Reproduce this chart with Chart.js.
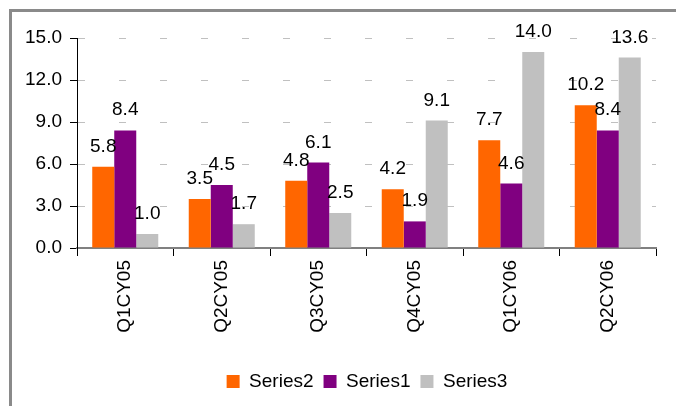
<!DOCTYPE html>
<html>
<head>
<meta charset="utf-8">
<script src="https://cdn.jsdelivr.net/npm/chart.js@4/dist/chart.umd.min.js"></script>
<style>
html,body{margin:0;padding:0;background:#fff;}
#wrap{position:relative;width:676px;height:406px;}
canvas{display:block;}
</style>
</head>
<body>
<div id="wrap"><canvas id="c" width="676" height="406"></canvas></div>
<script>
const categories = ["Q1CY05","Q2CY05","Q3CY05","Q4CY05","Q1CY06","Q2CY06"];
const series2 = [5.8, 3.5, 4.8, 4.2, 7.7, 10.2];
const series1 = [8.4, 4.5, 6.1, 1.9, 4.6, 8.4];
const series3 = [1.0, 1.7, 2.5, 9.1, 14.0, 13.6];
const seriesNames = ["Series2","Series1","Series3"];
const seriesColors = ["#FF6600","#800080","#C0C0C0"];
const yTicks = [0, 3, 6, 9, 12, 15];

const FONT = "'Liberation Sans', Arial, sans-serif";

const frame = {
  id: 'frame',
  beforeDraw(chart) {
    const ctx = chart.ctx;
    ctx.save();
    ctx.fillStyle = '#fff';
    ctx.fillRect(0, 0, chart.width, chart.height);
    ctx.fillStyle = '#8a8a8a';
    ctx.fillRect(9, 9, chart.width - 9, 3);
    ctx.fillRect(9, 9, 3, chart.height - 9);
    ctx.restore();
  }
};

const legendShift = {
  id: 'legendShift',
  afterLayout(chart) {
    if (chart.legend) { chart.legend.left += 39; chart.legend.right += 39; }
  }
};

const valueLabels = {
  id: 'valueLabels',
  afterDatasetsDraw(chart) {
    const ctx = chart.ctx;
    ctx.save();
    ctx.font = "19px " + FONT;
    ctx.fillStyle = '#000';
    ctx.textAlign = 'center';
    ctx.textBaseline = 'alphabetic';
    chart.data.datasets.forEach((ds, i) => {
      const meta = chart.getDatasetMeta(i);
      meta.data.forEach((bar, j) => {
        ctx.fillText(ds.data[j].toFixed(1), bar.x, bar.y - 15);
      });
    });
    ctx.restore();
  }
};

new Chart(document.getElementById('c'), {
  type: 'bar',
  data: {
    labels: categories,
    datasets: [
      { label: seriesNames[0], data: series2, backgroundColor: seriesColors[0] },
      { label: seriesNames[1], data: series1, backgroundColor: seriesColors[1] },
      { label: seriesNames[2], data: series3, backgroundColor: seriesColors[2] }
    ]
  },
  options: {
    responsive: false,
    devicePixelRatio: 1,
    animation: false,
    events: [],
    datasets: { bar: { barPercentage: 1, categoryPercentage: 0.684 } },
    layout: { padding: { top: 38, right: 20, left: 0, bottom: 5 } },
    scales: {
      x: {
        offset: true,
        grid: { offset: true, drawOnChartArea: false, drawTicks: true, tickLength: 8, tickColor: '#000', tickWidth: 1 },
        border: { display: true, color: '#808080', width: 2 },
        ticks: { color: '#000', font: { family: FONT, size: 19 }, minRotation: 90, maxRotation: 90, padding: 4, autoSkip: false },
        afterFit(s) { s.height = 114; }
      },
      y: {
        min: 0, max: 15,
        afterBuildTicks(s) { s.ticks = yTicks.map(v => ({ value: v })); },
        grid: { color: '#c0c0c0', lineWidth: 1, drawTicks: true, tickLength: 7, tickColor: '#000', tickWidth: 1, tickBorderDash: [] },
        border: { display: true, color: '#000', width: 1, dash: [7, 34] },
        ticks: { color: '#000', font: { family: FONT, size: 19 }, padding: 8, callback: v => Number(v).toFixed(1) },
        afterFit(s) { s.width = 77; }
      }
    },
    plugins: {
      legend: {
        position: 'bottom',
        labels: { color: '#000', font: { family: FONT, size: 19 }, boxWidth: 13, boxHeight: 13, padding: 10 }
      },
      tooltip: { enabled: false }
    }
  },
  plugins: [frame, legendShift, valueLabels]
});
</script>
</body>
</html>
